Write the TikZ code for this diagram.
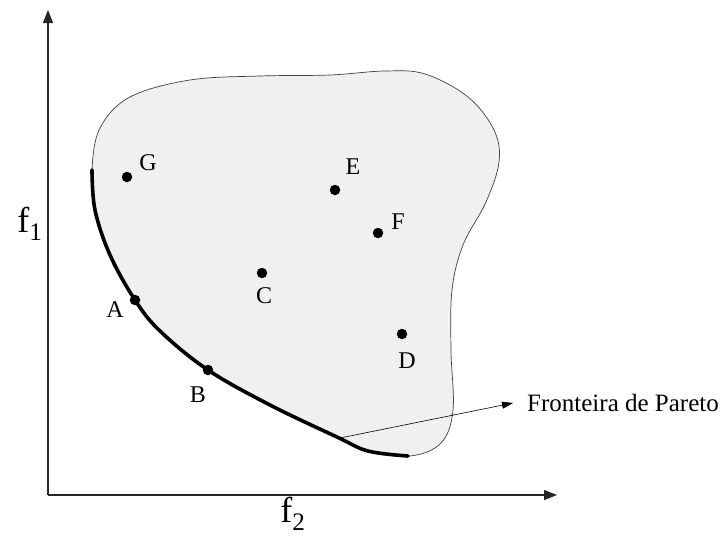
\documentclass[tikz,border=0pt]{standalone}
\usepackage{fontspec}
\setmainfont{Liberation Serif}
\usetikzlibrary{arrows.meta}
\begin{document}
\begin{tikzpicture}[x=1pt,y=-1pt,
  dot/.style={circle,fill=black,inner sep=0pt,minimum size=10.5pt},
  lbl/.style={inner sep=0pt,font=\fontsize{24}{26}\selectfont},
  axis/.style={line width=1.4pt,draw=black!85,-{Triangle[length=13pt,width=10pt]}},
  region/.style={fill=black!6,draw=black!75,line width=0.7pt},
  front/.style={line width=3.6pt,line cap=round},
  pointer/.style={line width=0.6pt,-{Triangle[length=11pt,width=7pt]}}]
\useasboundingbox (0,0) rectangle (727,538);
% region
\draw[region] plot[smooth cycle,tension=0.6] coordinates {
 (92,170) (100,128) (130,97) (190,80) (260,76) (330,75) (385,71) (425,74)
 (468,97) (494,130) (499,162) (486,202) (463,245) (452,290) (451,350)
 (453,410) (441,443) (410,456) (368,451) (337,437) (270,405) (208,370)
 (160,331) (135,300) (110,255) (95,210)};
% Pareto front
\draw[front] plot[smooth,tension=0.6] coordinates {
 (92,170) (95,210) (110,255) (135,300) (160,331) (208,370) (270,405)
 (337,437) (368,451) (408,456)};
\coordinate (p) at (340,438);
% axes
\coordinate (o) at (48,495);
\coordinate (ytip) at (48,10);
\coordinate (xtip) at (557,495);
\draw[axis] (o) -- (ytip);
\draw[axis] (o) -- (xtip);
\node[inner sep=0pt,font=\fontsize{36}{38}\selectfont] (f1) at (30,224) {f\textsubscript{1}};
\node[inner sep=0pt,font=\fontsize{36}{38}\selectfont] (f2) at (293,514) {f\textsubscript{2}};
% points
\node[dot] (G) at (127,177) {};
\node[lbl] (Gl) at (148,163) {G};
\node[dot] (E) at (335,190) {};
\node[lbl] (El) at (353,167) {E};
\node[dot] (F) at (378,233) {};
\node[lbl] (Fl) at (398,222) {F};
\node[dot] (C) at (262,273) {};
\node[lbl] (Cl) at (264,296) {C};
\node[dot] (D) at (402,334) {};
\node[lbl] (Dl) at (407,361) {D};
\node[dot] (A) at (135,300) {};
\node[lbl] (Al) at (115,310) {A};
\node[dot] (B) at (208,370) {};
\node[lbl] (Bl) at (198,395) {B};
% pointer
\node[inner sep=0pt,anchor=west,font=\fontsize{25}{28}\selectfont] (fp) at (527,403) {Fronteira de Pareto};
\draw[pointer] (p) -- ([xshift=-14pt]fp.west);
\end{tikzpicture}
\end{document}
